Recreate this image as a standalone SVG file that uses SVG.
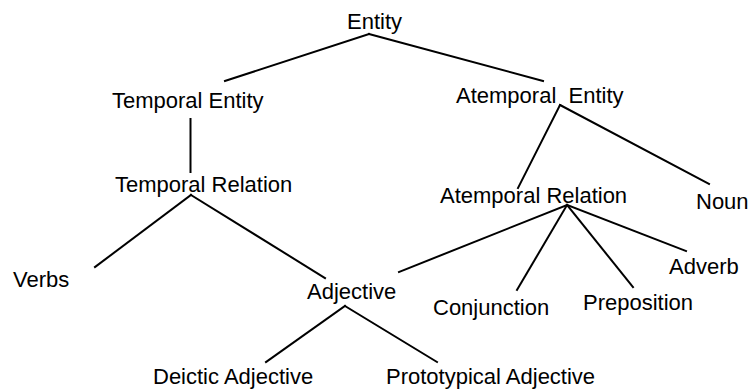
<svg xmlns="http://www.w3.org/2000/svg" width="749" height="389" viewBox="0 0 749 389">
<style>
text{font-family:"Liberation Sans",Arial,sans-serif;font-size:22px;fill:#000}
line{stroke:#000;stroke-width:2;stroke-linecap:square}
</style>
<rect width="749" height="389" fill="#fff"/>
<g id="connectors">
<line x1="369" y1="34" x2="225" y2="81"/>
<line x1="369" y1="34" x2="543" y2="81"/>
<line x1="190.5" y1="119" x2="190.5" y2="172"/>
<line x1="191" y1="195" x2="95" y2="267"/>
<line x1="191" y1="195" x2="325" y2="278"/>
<line x1="560" y1="105" x2="518" y2="188"/>
<line x1="560" y1="105" x2="709" y2="184"/>
<line x1="567" y1="205" x2="399" y2="272"/>
<line x1="567" y1="205" x2="517" y2="290"/>
<line x1="567" y1="205" x2="633" y2="287"/>
<line x1="567" y1="205" x2="686" y2="251"/>
<line x1="345" y1="306" x2="266" y2="362"/>
<line x1="345" y1="306" x2="437" y2="362"/>
</g>
<g id="entity"><text x="347" y="29">Entity</text></g>
<g id="temporal-entity"><text x="112" y="108">Temporal Entity</text></g>
<g id="atemporal-entity"><text x="456" y="103" xml:space="preserve">Atemporal  Entity</text></g>
<g id="temporal-relation"><text x="115" y="192">Temporal Relation</text></g>
<g id="atemporal-relation"><text x="440" y="203">Atemporal Relation</text></g>
<g id="noun"><text x="696" y="209">Noun</text></g>
<g id="verbs"><text x="13" y="287">Verbs</text></g>
<g id="adjective"><text x="307" y="299">Adjective</text></g>
<g id="adverb"><text x="669" y="274">Adverb</text></g>
<g id="conjunction"><text x="433" y="315">Conjunction</text></g>
<g id="preposition"><text x="583" y="310">Preposition</text></g>
<g id="deictic-adjective"><text x="153" y="384">Deictic Adjective</text></g>
<g id="prototypical-adjective"><text x="386" y="384">Prototypical Adjective</text></g>
</svg>
